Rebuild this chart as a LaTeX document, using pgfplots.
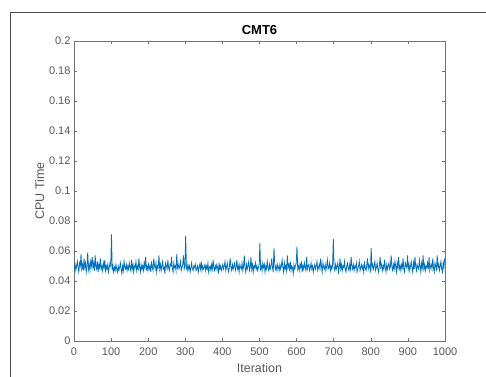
\documentclass[border=0pt]{standalone}
\usepackage{pgfplots}
\pgfplotsset{compat=1.18}
\usepackage{pgfplotstable}
\usepackage{fontspec}
\setmainfont{Liberation Sans}
\definecolor{mblue}{rgb}{0,0.447,0.741}
\definecolor{axgray}{gray}{0.45}
\definecolor{txtgray}{gray}{0.35}
\pgfplotstableread[row sep=\\]{
y\\
0.048\\0.051\\0.047\\0.050\\0.053\\0.049\\0.046\\0.052\\0.050\\0.058\\0.048\\0.051\\0.047\\0.055\\0.049\\0.052\\0.046\\0.050\\0.059\\0.048\\0.051\\0.047\\0.053\\0.050\\0.056\\
0.049\\0.052\\0.047\\0.057\\0.050\\0.048\\0.053\\0.046\\0.051\\0.049\\0.055\\0.048\\0.050\\0.047\\0.052\\0.049\\0.054\\0.047\\0.050\\0.048\\0.051\\0.046\\0.049\\0.052\\0.050\\
0.071\\
0.048\\0.050\\0.046\\0.049\\0.047\\0.051\\0.048\\0.046\\0.050\\0.047\\0.049\\0.052\\0.048\\0.045\\0.050\\0.047\\0.053\\0.049\\0.048\\0.051\\0.047\\0.050\\0.048\\0.052\\
0.049\\0.047\\0.054\\0.048\\0.051\\0.046\\0.050\\0.049\\0.053\\0.047\\0.050\\0.048\\0.055\\0.049\\0.046\\0.051\\0.048\\0.050\\0.047\\0.052\\0.049\\0.056\\0.048\\0.050\\0.047\\
0.051\\0.048\\0.050\\0.046\\0.053\\0.049\\0.047\\0.055\\0.050\\0.048\\0.052\\0.046\\0.050\\0.049\\0.057\\0.048\\0.051\\0.047\\0.050\\0.053\\0.048\\0.049\\0.045\\0.052\\0.050\\
0.048\\0.054\\0.049\\0.047\\0.051\\0.050\\0.056\\0.048\\0.046\\0.052\\0.049\\0.050\\0.047\\0.058\\0.049\\0.051\\0.048\\0.050\\0.053\\0.047\\0.049\\0.051\\0.057\\0.048\\0.050\\
0.070\\
0.049\\0.047\\0.051\\0.048\\0.050\\0.046\\0.049\\0.052\\0.048\\0.047\\0.050\\0.049\\0.051\\0.047\\0.048\\0.050\\0.046\\0.049\\0.051\\0.048\\0.053\\0.047\\0.050\\0.048\\
0.049\\0.051\\0.047\\0.050\\0.048\\0.052\\0.046\\0.049\\0.050\\0.047\\0.051\\0.048\\0.054\\0.049\\0.047\\0.050\\0.048\\0.051\\0.049\\0.045\\0.052\\0.048\\0.050\\0.047\\0.049\\
0.051\\0.048\\0.050\\0.053\\0.047\\0.049\\0.052\\0.048\\0.046\\0.050\\0.055\\0.049\\0.047\\0.051\\0.048\\0.050\\0.052\\0.047\\0.049\\0.054\\0.048\\0.050\\0.046\\0.051\\0.049\\
0.048\\0.052\\0.047\\0.050\\0.057\\0.049\\0.046\\0.051\\0.048\\0.050\\0.053\\0.047\\0.049\\0.056\\0.048\\0.051\\0.046\\0.050\\0.049\\0.052\\0.048\\0.050\\0.047\\0.049\\0.051\\
0.065\\
0.048\\0.050\\0.047\\0.052\\0.049\\0.051\\0.046\\0.050\\0.048\\0.053\\0.049\\0.047\\0.051\\0.048\\0.050\\0.055\\0.049\\0.046\\0.062\\0.052\\0.048\\0.050\\0.047\\0.051\\
0.049\\0.047\\0.051\\0.048\\0.050\\0.054\\0.049\\0.046\\0.052\\0.048\\0.050\\0.047\\0.057\\0.049\\0.051\\0.048\\0.053\\0.047\\0.050\\0.049\\0.045\\0.051\\0.048\\0.050\\0.052\\
0.063\\
0.048\\0.050\\0.047\\0.051\\0.049\\0.053\\0.046\\0.050\\0.048\\0.052\\0.049\\0.047\\0.056\\0.048\\0.050\\0.051\\0.047\\0.049\\0.052\\0.048\\0.050\\0.046\\0.049\\0.051\\
0.048\\0.050\\0.053\\0.047\\0.049\\0.051\\0.048\\0.055\\0.050\\0.046\\0.052\\0.049\\0.048\\0.051\\0.047\\0.050\\0.054\\0.048\\0.049\\0.052\\0.047\\0.050\\0.048\\0.051\\0.068\\
0.049\\0.047\\0.051\\0.048\\0.050\\0.052\\0.046\\0.049\\0.055\\0.048\\0.051\\0.047\\0.050\\0.049\\0.053\\0.048\\0.046\\0.050\\0.052\\0.049\\0.047\\0.051\\0.048\\0.056\\0.050\\
0.048\\0.051\\0.047\\0.050\\0.049\\0.052\\0.046\\0.048\\0.050\\0.053\\0.047\\0.049\\0.051\\0.048\\0.050\\0.046\\0.052\\0.049\\0.047\\0.050\\0.055\\0.048\\0.051\\0.049\\0.047\\
0.062\\
0.049\\0.051\\0.048\\0.050\\0.053\\0.047\\0.049\\0.052\\0.048\\0.046\\0.050\\0.056\\0.049\\0.051\\0.047\\0.050\\0.048\\0.054\\0.049\\0.046\\0.051\\0.048\\0.050\\0.052\\
0.048\\0.050\\0.057\\0.049\\0.047\\0.051\\0.048\\0.053\\0.050\\0.046\\0.052\\0.049\\0.056\\0.048\\0.050\\0.047\\0.051\\0.049\\0.055\\0.048\\0.046\\0.052\\0.050\\0.049\\0.057\\
0.048\\0.051\\0.047\\0.050\\0.053\\0.049\\0.046\\0.052\\0.048\\0.056\\0.050\\0.047\\0.051\\0.049\\0.048\\0.054\\0.050\\0.046\\0.052\\0.049\\0.057\\0.048\\0.051\\0.047\\0.050\\
0.049\\0.052\\0.048\\0.056\\0.047\\0.050\\0.051\\0.048\\0.055\\0.049\\0.046\\0.052\\0.050\\0.048\\0.057\\0.049\\0.051\\0.047\\0.050\\0.053\\0.048\\0.046\\0.052\\0.049\\0.055\\
}\cpudata
\begin{document}
\begin{tikzpicture}[x=1pt,y=1pt]
\useasboundingbox (0,0) rectangle (486,376);
\draw[black!70, line width=0.8pt] (10,-5) -- (10,364) -- (491,364);
\begin{axis}[
  at={(74pt,35pt)}, anchor=south west,
  scale only axis, width=371pt, height=300pt,
  xmin=0, xmax=1000, ymin=0, ymax=0.2,
  xtick={0,100,...,1000},
  xticklabels={0,100,200,300,400,500,600,700,800,900,1000},
  ytick={0,0.02,0.04,0.06,0.08,0.1,0.12,0.14,0.16,0.18,0.2},
  yticklabels={0,0.02,0.04,0.06,0.08,0.1,0.12,0.14,0.16,0.18,0.2},
  scaled y ticks=false,
  /pgf/number format/assume math mode=true,
  tick align=inside, major tick length=3pt,
  axis line style={axgray, line width=0.6pt},
  every tick/.style={axgray, line width=0.5pt},
  tick label style={font=\fontsize{11}{13}\selectfont, text=txtgray},
  xticklabel style={yshift=-3pt},
  label style={font=\fontsize{12.5}{14}\selectfont, text=txtgray},
  xlabel={Iteration}, ylabel={CPU Time},
  xlabel style={yshift=-1pt},
  ylabel style={yshift=-2pt},
  title={\textbf{CMT6}},
  title style={font=\fontsize{13}{15}\selectfont, yshift=-3pt},
]
\addplot[mblue, line width=0.8pt, no marks] table[x expr=2*\coordindex+1, y=y] {\cpudata};
\end{axis}
\end{tikzpicture}
\end{document}
